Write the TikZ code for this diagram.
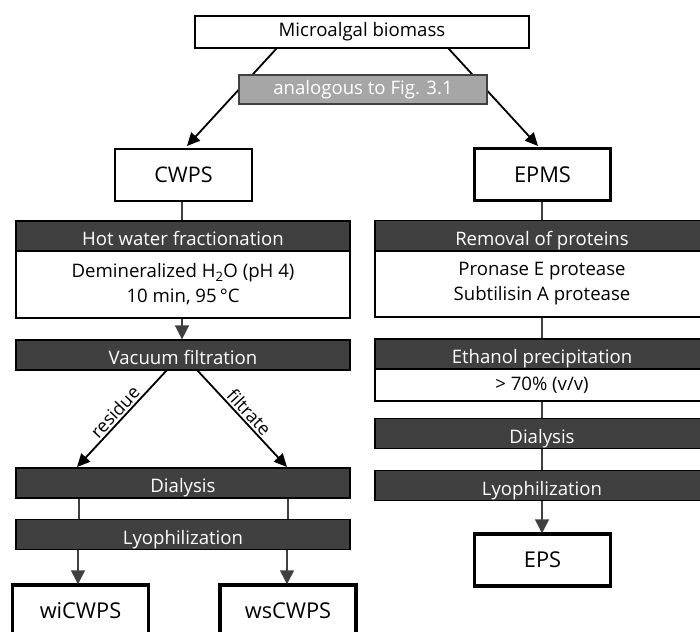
\documentclass[tikz,border=0pt]{standalone}
\usepackage{fontspec}
\setmainfont{Open Sans}
\usetikzlibrary{arrows.meta}
\definecolor{darkbar}{HTML}{404040}
\definecolor{midgray}{HTML}{A6A6A6}
\begin{document}
\begin{tikzpicture}[x=1pt,y=-1pt,
  txt/.style={font=\fontsize{18.6}{25}\selectfont},
  plainbox/.style={txt,draw=black,fill=white,line width=1.3pt,inner sep=0pt,align=center},
  graybox/.style={txt,draw=darkbar,fill=midgray,text=white,line width=1.3pt,inner sep=0pt,minimum width=248pt,minimum height=29pt},
  bar/.style={txt,draw=black,fill=darkbar,text=white,line width=1.2pt,inner sep=0pt,minimum width=334pt,minimum height=30pt,text height=19pt,text depth=0pt},
  infobox/.style={txt,draw=black,fill=white,line width=1.2pt,inner sep=0pt,minimum width=334pt,align=center},
  resultbox/.style={font=\fontsize{21.8}{24}\selectfont,draw=black,fill=white,line width=3.5pt,inner sep=0pt,minimum width=136pt,minimum height=52pt},
  conn/.style={draw=darkbar,line width=1.5pt},
  connarrow/.style={conn,-{Triangle[length=14pt,width=14pt]}},
  toparrow/.style={draw=black,line width=1.8pt,-{Triangle[length=13pt,width=12pt]}},
  lbl/.style={font=\fontsize{18}{20}\selectfont,sloped,above,inner sep=2pt}
]
\clip (0,0) rectangle (700,631);
\fill[white] (0,0) rectangle (700,631);

% top
\node[plainbox,minimum width=334pt,minimum height=32pt] (bio) at (362,32) {Microalgal biomass};
\node[plainbox,line width=2pt,minimum width=137pt,minimum height=52pt,font=\fontsize{21.5}{24}\selectfont] (cwps) at (183.5,175) {CWPS};
\node[resultbox] (epms) at (542.5,174.5) {EPMS};

\coordinate (t1) at (277,48);
\coordinate (t2) at (187,146);
\coordinate (t3) at (448,48);
\coordinate (t4) at (538,146);
\draw[toparrow] (t1) -- (t2);
\draw[toparrow] (t3) -- (t4);
\node[graybox] (ana) at (363,89.5) {analogous to Fig. 3.1};

% left column
\node[bar] (hw) at (183,236) {Hot water fractionation};
\node[infobox,minimum height=67pt] (hwi) at (183,284.5) {Demineralized H\textsubscript{2}O (pH 4)\\10 min, 95\,°C};
\node[bar] (vac) at (183,355) {Vacuum filtration};
\node[bar] (dialL) at (183,483) {Dialysis};
\node[bar] (lyoL) at (183,534.5) {Lyophilization};
\node[resultbox] (wi) at (80.5,611) {wiCWPS};
\node[resultbox] (ws) at (288,611) {wsCWPS};

% right column
\node[bar] (rem) at (542,235.5) {Removal of proteins};
\node[infobox,minimum height=66pt] (remi) at (542,284) {Pronase E protease\\Subtilisin A protease};
\node[bar] (eth) at (542,354) {Ethanol precipitation};
\node[infobox,minimum height=32pt] (ethi) at (542,385) {> 70\% (v/v)};
\node[bar] (dialR) at (542,433.5) {Dialysis};
\node[bar] (lyoR) at (542,485.5) {Lyophilization};
\node[resultbox] (eps) at (542.5,560) {EPS};

% connectors left
\coordinate (cx) at (182,0);
\draw[conn] (cwps.south -| cx) -- (hw.north -| cx);
\draw[connarrow] (hwi.south -| cx) -- (vac.north -| cx);
\coordinate (r1) at (167,370);
\coordinate (r2) at (77,467);
\coordinate (f1) at (197,370);
\coordinate (f2) at (287,467);
\draw[toparrow] (r1) -- node[lbl] {residue} (r2);
\draw[toparrow] (f1) -- node[lbl] {filtrate} (f2);
\coordinate (lx1) at (79,0);
\coordinate (lx2) at (288,0);
\draw[conn] (dialL.south -| lx1) -- (lyoL.north -| lx1);
\draw[conn] (dialL.south -| lx2) -- (lyoL.north -| lx2);
\coordinate (ax1) at (78,0);
\coordinate (ax2) at (287,0);
\draw[connarrow] (lyoL.south -| ax1) -- ([yshift=-1pt]wi.north -| ax1);
\draw[connarrow] (lyoL.south -| ax2) -- ([yshift=-1pt]ws.north -| ax2);

% connectors right
\coordinate (rx) at (542,0);
\draw[conn] (epms.south -| rx) -- (rem.north -| rx);
\draw[conn] (remi.south -| rx) -- (eth.north -| rx);
\draw[conn] (ethi.south -| rx) -- (dialR.north -| rx);
\draw[conn] (dialR.south -| rx) -- (lyoR.north -| rx);
\draw[connarrow] (lyoR.south -| rx) -- ([yshift=-1pt]eps.north -| rx);
\end{tikzpicture}
\end{document}
